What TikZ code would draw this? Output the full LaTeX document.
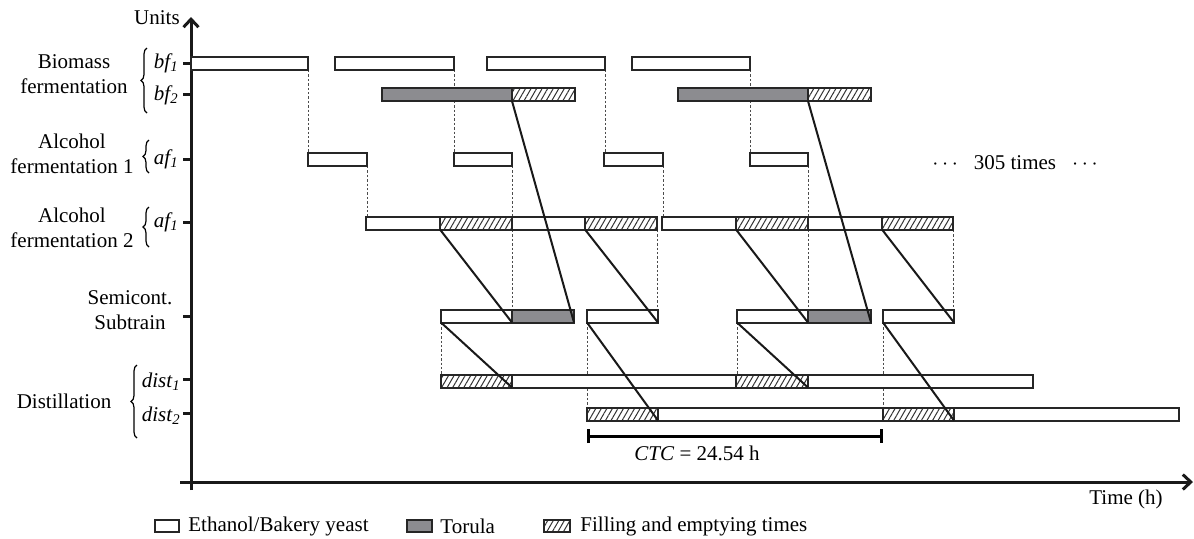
\documentclass[tikz,border=0pt]{standalone}
\usepackage{fontspec}
\setmainfont{Liberation Serif}
\usetikzlibrary{arrows.meta,patterns.meta,decorations.pathreplacing,positioning}
\definecolor{torula}{RGB}{140,140,144}
% one bar of the chart: style, name, start, end, row
\newcommand{\gseg}[5]{\node (#2) at ({(#3+#4)/2},#5) [#1, minimum width={(#4-#3)*0.5pt}] {};}

\begin{document}
\begin{tikzpicture}[
    x=0.5pt, y=-0.5pt,
    font=\fontsize{10.5}{12.5}\selectfont,
    >={Straight Barb[length=4pt,width=7.5pt]},
    seg/.style={draw=black!85, line width=1pt, minimum height=6.5pt, inner sep=0pt, outer sep=0pt},
    ybar/.style={seg, fill=white},
    tbar/.style={seg, fill=torula},
    hbar/.style={seg, preaction={fill=white}, pattern={Lines[angle=60,distance=2.4pt,line width=0.5pt]}, pattern color=black!80},
    axisline/.style={line width=1.5pt, black!90},
    guide/.style={black!70, line width=0.5pt, dash pattern=on 1.2pt off 1pt},
    link/.style={line width=1pt, black!90},
    lbl/.style={inner sep=0pt},
    group/.style={align=center, inner sep=0pt},
    curly/.style={decorate, decoration={brace, amplitude=3pt}, line width=0.6pt}
  ]
  \useasboundingbox (0,0) rectangle (1194,538);

  % axes
  \coordinate (ybot) at (191,490);
  \coordinate (ytop) at (191,17);
  \coordinate (xleft) at (180,482);
  \coordinate (xright) at (1193,482);
  \draw [axisline, ->] (ybot) -- (ytop);
  \draw [axisline, ->] (xleft) -- (xright);
  \draw [axisline] (183,63) -- (191,63) (183,94) -- (191,94) (183,159) -- (191,159)
    (183,222) -- (191,222) (183,316) -- (191,316) (183,379) -- (191,379) (183,413) -- (191,413);

  \node (units) at (157,18) [lbl] {Units};
  \node (time) at (1126,499) [lbl] {Time (h)};

  % unit labels
  \node (gbio) at (74,74) [group] {Biomass\\fermentation};
  \node (gaf1) at (72,154) [group] {Alcohol\\fermentation 1};
  \node (gaf2) at (72,228) [group] {Alcohol\\fermentation 2};
  \node (gsemi) at (130,310) [group] {Semicont.\\Subtrain};
  \node (gdist) at (64,401) [group] {Distillation};

  \node (lbf1) at (179,63) [lbl, anchor=east] {\textit{bf\textsubscript{1}}};
  \node (lbf2) at (179,95) [lbl, anchor=east] {\textit{bf\textsubscript{2}}};
  \node (laf1) at (179,159) [lbl, anchor=east] {\textit{af\textsubscript{1}}};
  \node (laf2) at (179,222) [lbl, anchor=east] {\textit{af\textsubscript{1}}};
  \node (ld1) at (181,382) [lbl, anchor=east] {\textit{dist\textsubscript{1}}};
  \node (ld2) at (181,416) [lbl, anchor=east] {\textit{dist\textsubscript{2}}};

  \draw [curly] (147,113) -- (147,48);
  \draw [curly] (149,173) -- (149,140);
  \draw [curly] (149,247) -- (149,207);
  \draw [curly] (137,438) -- (137,365);

  % guides (drawn below the bars)
  \draw [guide] (308,70) -- (308,153);
  \draw [guide] (367,166) -- (367,216);
  \draw [guide] (454,70) -- (454,153);
  \draw [guide] (512,166) -- (512,216);
  \draw [guide] (512,230) -- (512,309);
  \draw [guide] (605,70) -- (605,153);
  \draw [guide] (663,166) -- (663,216);
  \draw [guide] (657,230) -- (657,309);
  \draw [guide] (750,70) -- (750,153);
  \draw [guide] (808,166) -- (808,216);
  \draw [guide] (808,230) -- (808,309);
  \draw [guide] (953,230) -- (953,309);
  \draw [guide] (441,323) -- (441,374);
  \draw [guide] (587,323) -- (587,407);
  \draw [guide] (737,323) -- (737,374);
  \draw [guide] (883,323) -- (883,407);

  % biomass fermentation
  \gseg{ybar}{b1}{191}{308}{63.5}
  \gseg{ybar}{b2}{335}{454}{63.5}
  \gseg{ybar}{b3}{487}{605}{63.5}
  \gseg{ybar}{b4}{632}{750}{63.5}
  \gseg{tbar}{t1}{382}{512}{94.5}
  \gseg{hbar}{f1}{512}{575}{94.5}
  \gseg{tbar}{t2}{678}{808}{94.5}
  \gseg{hbar}{f2}{808}{871}{94.5}

  % alcohol fermentation 1
  \gseg{ybar}{a1}{308}{367}{159.5}
  \gseg{ybar}{a2}{454}{512}{159.5}
  \gseg{ybar}{a3}{604}{663}{159.5}
  \gseg{ybar}{a4}{750}{808}{159.5}

  % alcohol fermentation 2
  \gseg{ybar}{c1}{366}{440}{223}
  \gseg{hbar}{c1f}{440}{512}{223}
  \gseg{ybar}{c2}{512}{585}{223}
  \gseg{hbar}{c2f}{585}{657}{223}
  \gseg{ybar}{c3}{662}{736}{223}
  \gseg{hbar}{c3f}{736}{808}{223}
  \gseg{ybar}{c4}{808}{882}{223}
  \gseg{hbar}{c4f}{882}{953}{223}

  % semicontinuous subtrain
  \gseg{ybar}{s1}{441}{512}{316}
  \gseg{tbar}{s1t}{512}{574}{316}
  \gseg{ybar}{s2}{587}{658}{316}
  \gseg{ybar}{s3}{737}{808}{316}
  \gseg{tbar}{s3t}{808}{871}{316}
  \gseg{ybar}{s4}{883}{954}{316}

  % distillation
  \gseg{hbar}{d1f}{441}{512}{381}
  \gseg{ybar}{d1}{512}{736}{381}
  \gseg{hbar}{d3f}{736}{808}{381}
  \gseg{ybar}{d3}{808}{1033}{381}
  \gseg{hbar}{e2f}{587}{658}{414}
  \gseg{ybar}{e2}{658}{883}{414}
  \gseg{hbar}{e4f}{883}{954}{414}
  \gseg{ybar}{e4}{954}{1179}{414}

  % transfers
  \draw [link] (f1.south west) -- (s1t.south east);
  \draw [link] (f2.south west) -- (s3t.south east);
  \draw [link] (c1f.south west) -- (s1.south east);
  \draw [link] (c2f.south west) -- (s2.south east);
  \draw [link] (c3f.south west) -- (s3.south east);
  \draw [link] (c4f.south west) -- (s4.south east);
  \draw [link] (s1.south west) -- (d1f.south east);
  \draw [link] (s2.south west) -- (e2f.south east);
  \draw [link] (s3.south west) -- (d3f.south east);
  \draw [link] (s4.south west) -- (e4f.south east);

  \node (rep) at (1015,163) [lbl] {$\cdots$\hspace{8pt}305 times\hspace{8pt}$\cdots$};

  % cycle time
  \coordinate (ctcl) at (587,436);
  \coordinate (ctcr) at (883,436);
  \draw [line width=1.5pt, {Bar[width=7pt]}-{Bar[width=7pt]}] (ctcl) -- (ctcr);
  \node (ctc) at (697,453) [lbl] {\textit{CTC} = 24.54 h};

  % legend
  \node (lgy) at (167,526) [ybar, line width=0.6pt, minimum width=12pt, minimum height=6pt] {};
  \node (lgyt) [lbl, right=4.5pt of lgy] {Ethanol/Bakery yeast};
  \node (lgt) at (419.5,526) [tbar, line width=0.6pt, minimum width=12.5pt, minimum height=6pt] {};
  \node (lgtt) [lbl, right=4pt of lgt] {Torula};
  \node (lgh) at (557,526) [hbar, line width=0.6pt, minimum width=13pt, minimum height=6pt] {};
  \node (lght) [lbl, right=5pt of lgh] {Filling and emptying times};
\end{tikzpicture}
\end{document}
